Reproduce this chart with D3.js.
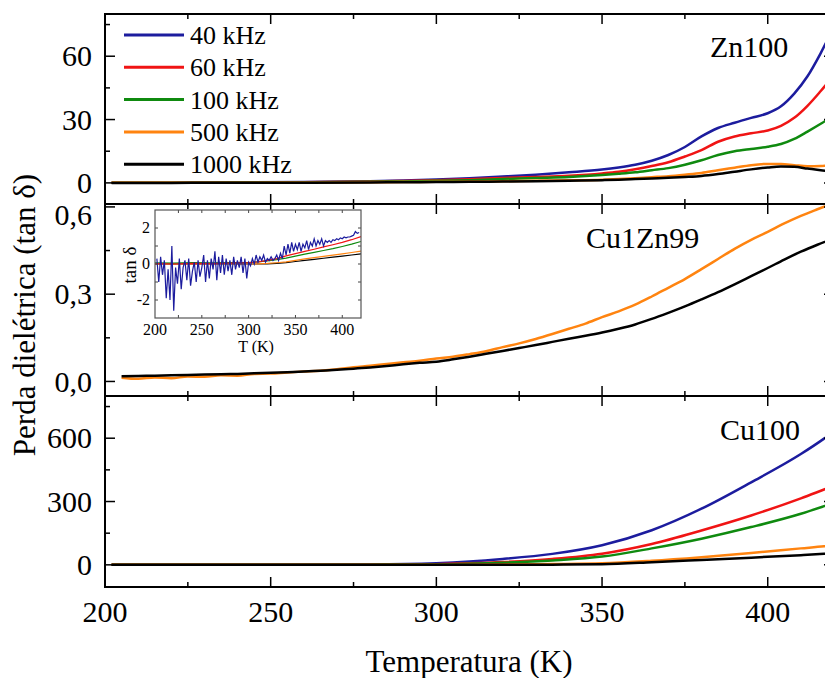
<!DOCTYPE html>
<html>
<head>
<meta charset="utf-8">
<script src="https://cdn.jsdelivr.net/npm/d3@7"></script>
<style>
  html, body { margin: 0; padding: 0; background: #fff; }
  svg { display: block; font-family: "Liberation Serif", "DejaVu Serif", serif; }
</style>
</head>
<body>
<svg id="chart" width="825" height="678"></svg>
<script>
// ---- Data -----------------------------------------------------------
const freqLabels = ["40 kHz", "60 kHz", "100 kHz", "500 kHz", "1000 kHz"];
const freqColors = ["#1c1c9e", "#f01414", "#0f8a0f", "#ff8410", "#000000"];

// Zn100 sample (tan δ)
const tempZn = [202, 220, 240, 260, 280, 290, 300, 310, 320, 330, 340, 350, 355, 360, 365, 370, 375, 380, 385, 390, 395, 400, 404, 408, 412, 416, 420];
const zn40   = [0.1, 0.1, 0.2, 0.4, 0.8, 1.1, 1.6, 2.2, 3.0, 3.9, 5.0, 6.3, 7.3, 8.6, 10.5, 13.2, 17, 22, 26, 28.5, 30.8, 33.0, 36.3, 42.3, 50.5, 61.5, 74];
const zn60   = [0.1, 0.1, 0.2, 0.3, 0.6, 0.9, 1.3, 1.7, 2.3, 2.8, 3.4, 4.5, 5.3, 6.5, 8.0, 9.8, 12.5, 15.5, 19.5, 22, 23.5, 24.8, 27.0, 30.8, 36.5, 43.5, 51];
const zn100  = [0.1, 0.1, 0.2, 0.3, 0.5, 0.7, 1.0, 1.3, 1.8, 2.3, 2.8, 3.7, 4.3, 5.0, 6.0, 7.0, 8.6, 10.7, 13.2, 15.0, 16.1, 17.1, 18.4, 20.8, 24.3, 28.0, 32.0];
const zn500  = [0.1, 0.1, 0.1, 0.2, 0.3, 0.4, 0.5, 0.6, 0.8, 1.0, 1.2, 1.5, 1.8, 2.2, 2.7, 3.2, 3.9, 4.7, 6.0, 7.2, 8.4, 9.0, 8.9, 8.4, 7.9, 8.0, 8.4];
const zn1000 = [0.0, 0.0, 0.1, 0.1, 0.2, 0.3, 0.4, 0.5, 0.6, 0.8, 1.0, 1.3, 1.5, 1.8, 2.1, 2.4, 2.8, 3.3, 4.2, 5.3, 6.4, 7.3, 7.8, 7.6, 6.8, 6.0, 5.4];

// Cu1Zn99 sample (tan δ), 500 kHz and 1000 kHz
const tempCuZn = [205, 210, 215, 220, 225, 230, 235, 240, 245, 250, 255, 260, 265, 270, 275, 280, 285, 290, 295, 300, 305, 310, 315, 320, 325, 330, 335, 340, 345, 350, 355, 360, 365, 370, 375, 380, 385, 390, 395, 400, 405, 410, 415, 420];
const cuzn500  = [0.013, 0.009, 0.014, 0.011, 0.017, 0.016, 0.021, 0.020, 0.026, 0.027, 0.031, 0.034, 0.037, 0.042, 0.049, 0.054, 0.060, 0.066, 0.071, 0.079, 0.085, 0.094, 0.104, 0.118, 0.131, 0.146, 0.163, 0.181, 0.199, 0.221, 0.241, 0.264, 0.292, 0.322, 0.352, 0.386, 0.421, 0.456, 0.487, 0.514, 0.543, 0.569, 0.592, 0.614];
const cuzn1000 = [0.018, 0.019, 0.020, 0.021, 0.022, 0.024, 0.025, 0.026, 0.028, 0.030, 0.032, 0.034, 0.037, 0.040, 0.044, 0.048, 0.053, 0.059, 0.064, 0.068, 0.076, 0.085, 0.095, 0.105, 0.115, 0.125, 0.136, 0.147, 0.157, 0.168, 0.181, 0.196, 0.215, 0.236, 0.258, 0.282, 0.307, 0.334, 0.362, 0.390, 0.419, 0.446, 0.470, 0.492];

// Cu1Zn99 sample, low-frequency curves (inset)
const insetTemp40 = d3.range(202, 419, 2);
const inset40 = [0.3, -1.0, 0.4, -0.6, 0.2, -1.9, -0.3, -2.0, 1.0, -2.6, -0.2, -1.1, 0.3, -1.4, -0.2, 0.2, -0.9, 0.3, -1.2, -0.4,
                 0.1, -1.0, 0.2, -0.7, -0.2, 0.5, -1.0, 0.2, -0.8, 0.3, -0.3, 0.7, -0.9, 0.4, -0.5, 0.5, -0.6, 0.3, -0.4, 0.2,
                 -0.6, 0.4, -0.3, 0.2, -0.2, 0.4, -0.5, 0.3, -0.8, 0.1, -0.1, 0.3, 0.0, 0.5, 0.1, 0.4, 0.2, 0.5, 0.1, 0.3,
                 0.2, 0.4, 0.2, 0.3, 0.5, 0.2, 0.6, 0.3, 1.0, 0.5, 1.1, 0.6, 1.2, 0.7, 1.1, 0.8, 1.2, 0.7, 1.1, 0.9,
                 1.3, 0.8, 1.2, 1.0, 1.4, 1.0, 1.3, 1.1, 1.4, 1.0, 1.3, 1.2, 1.3, 1.2, 1.35, 1.3, 1.4, 1.35, 1.45, 1.4,
                 1.5, 1.45, 1.5, 1.5, 1.55, 1.6, 1.8, 1.7, 1.75];
const insetTemp = [200, 220, 240, 260, 280, 300, 310, 320, 330, 340, 350, 360, 370, 380, 390, 400, 410, 420];
const inset60   = [0.02, 0.0, 0.03, 0.02, 0.05, 0.08, 0.12, 0.2, 0.3, 0.45, 0.58, 0.7, 0.82, 0.95, 1.07, 1.2, 1.35, 1.52];
const inset100  = [0.07, 0.05, 0.08, 0.06, 0.08, 0.08, 0.12, 0.17, 0.24, 0.33, 0.44, 0.55, 0.65, 0.75, 0.85, 0.97, 1.1, 1.25];
const inset500  = [0, 0, 0, 0, 0, 0, 0.01, 0.03, 0.07, 0.12, 0.2, 0.28, 0.35, 0.42, 0.49, 0.56, 0.64, 0.72];
const inset1000 = [0, 0, 0, 0, 0, 0, 0, 0.01, 0.04, 0.08, 0.14, 0.2, 0.26, 0.32, 0.38, 0.44, 0.5, 0.56];

// Cu100 sample (tan δ)
const tempCu = [202, 240, 280, 300, 310, 320, 335, 350, 365, 380, 395, 410, 417, 420];
const cu40   = [0, 0.5, 2, 8, 16, 28, 52, 93, 164, 266, 391, 525, 598, 632];
const cu60   = [0, 0.3, 1, 3, 7, 13, 28, 53, 99, 163, 234, 315, 357, 375];
const cu100  = [0, 0.3, 1, 2, 5, 10, 21, 39, 78, 124, 179, 242, 278, 294];
const cu500  = [0, 0, 0, 0, 1, 2, 4, 7, 19, 36, 56, 78, 88, 93];
const cu1000 = [0, 0, 0, 0, 0, 0, 1, 3, 12, 23, 34, 46, 52, 55];

const xTicks = [200, 250, 300, 350, 400];
const xMinorTicks = [225, 275, 325, 375];

// ---- Layout ---------------------------------------------------------
const svg = d3.select("#chart");
const x = d3.scaleLinear().domain([200, 420]).range([105, 834]);

const panels = [
  {
    id: "zn", name: "Zn100", top: 14, bottom: 204, domain: [-10, 80],
    ticks: [0, 30, 60], minor: [15, 45, 75], fmt: d => String(d),
    temps: tempZn, series: [zn40, zn60, zn100, zn500, zn1000], colors: [0, 1, 2, 3, 4],
    label: { x: 710, y: 57 }
  },
  {
    id: "cuzn", name: "Cu1Zn99", top: 204, bottom: 396, domain: [-0.05, 0.61],
    ticks: [0, 0.3, 0.6], minor: [0.15, 0.45], fmt: d => d.toFixed(1).replace(".", ","),
    temps: tempCuZn, series: [cuzn500, cuzn1000], colors: [3, 4],
    label: { x: 586, y: 248 }, topLabelShift: 8
  },
  {
    id: "cu", name: "Cu100", top: 396, bottom: 587, domain: [-105, 800],
    ticks: [0, 300, 600], minor: [150, 450, 750], fmt: d => String(d),
    temps: tempCu, series: [cu40, cu60, cu100, cu500, cu1000], colors: [0, 1, 2, 3, 4],
    label: { x: 720, y: 440 }
  }
];

const defs = svg.append("defs");

panels.forEach(p => {
  const y = d3.scaleLinear().domain(p.domain).range([p.bottom, p.top]);
  const g = svg.append("g");

  defs.append("clipPath").attr("id", "clip-" + p.id)
    .append("rect")
    .attr("x", x.range()[0]).attr("y", p.top)
    .attr("width", x.range()[1] - x.range()[0]).attr("height", p.bottom - p.top);

  const line = d3.line()
    .x(d => x(d[0])).y(d => y(d[1]))
    .curve(d3.curveMonotoneX);

  const curves = g.append("g").attr("clip-path", `url(#clip-${p.id})`);
  p.series.forEach((vals, i) => {
    curves.append("path")
      .datum(p.temps.map((t, k) => [t, vals[k]]))
      .attr("fill", "none")
      .attr("stroke", freqColors[p.colors[i]])
      .attr("stroke-width", 2.5)
      .attr("stroke-linejoin", "round")
      .attr("d", line);
  });

  // ticks on all four sides, pointing inward
  const x0 = x.range()[0], x1 = x.range()[1];
  const tickG = g.append("g").attr("stroke", "#000").attr("stroke-width", 1.5);
  const addY = (vals, len) => vals.forEach(v => {
    tickG.append("line").attr("x1", x0).attr("x2", x0 + len).attr("y1", y(v)).attr("y2", y(v));
    tickG.append("line").attr("x1", x1).attr("x2", x1 - len).attr("y1", y(v)).attr("y2", y(v));
  });
  addY(p.ticks, 10);
  addY(p.minor, 5);
  const addX = (vals, len) => vals.forEach(v => {
    tickG.append("line").attr("x1", x(v)).attr("x2", x(v)).attr("y1", p.bottom).attr("y2", p.bottom - len);
    tickG.append("line").attr("x1", x(v)).attr("x2", x(v)).attr("y1", p.top).attr("y2", p.top + len);
  });
  addX(xTicks, 10);
  addX(xMinorTicks, 5);

  // frame
  g.append("rect")
    .attr("x", x0).attr("y", p.top)
    .attr("width", x1 - x0).attr("height", p.bottom - p.top)
    .attr("fill", "none").attr("stroke", "#000").attr("stroke-width", 2);

  // y tick labels
  g.append("g").selectAll("text").data(p.ticks).join("text")
    .attr("x", 92)
    .attr("y", (d, i) => y(d) + (p.topLabelShift && i === p.ticks.length - 1 ? p.topLabelShift : 0))
    .attr("dy", "0.34em")
    .attr("text-anchor", "end")
    .attr("font-size", 30)
    .text(p.fmt);

  // sample name
  g.append("text")
    .attr("x", p.label.x).attr("y", p.label.y)
    .attr("font-size", 30)
    .text(p.name);
});

// x tick labels under the bottom panel
svg.append("g").selectAll("text").data(xTicks).join("text")
  .attr("x", d => x(d)).attr("y", 622)
  .attr("text-anchor", "middle")
  .attr("font-size", 30)
  .text(d => d);

// axis titles
svg.append("text")
  .attr("x", 469).attr("y", 672)
  .attr("text-anchor", "middle")
  .attr("font-size", 31)
  .text("Temperatura (K)");

svg.append("text")
  .attr("transform", "translate(35,315) rotate(-90)")
  .attr("text-anchor", "middle")
  .attr("font-size", 31)
  .text("Perda dielétrica (tan δ)");

// legend in the top panel
const legend = svg.append("g");
freqLabels.forEach((lab, i) => {
  const ly = 35 + i * 32.3;
  legend.append("line")
    .attr("x1", 124).attr("x2", 184).attr("y1", ly).attr("y2", ly)
    .attr("stroke", freqColors[i]).attr("stroke-width", 3);
  legend.append("text")
    .attr("x", 190).attr("y", ly + 9)
    .attr("font-size", 26)
    .text(lab);
});

// ---- Inset: Cu1Zn99 at all frequencies --------------------------------
const ix = d3.scaleLinear().domain([200, 420]).range([155, 361]);
const iy = d3.scaleLinear().domain([-3, 3]).range([318, 210]);
const inset = svg.append("g");
inset.append("rect")
  .attr("x", 155).attr("y", 210).attr("width", 206).attr("height", 108)
  .attr("fill", "#fff");
defs.append("clipPath").attr("id", "clip-inset")
  .append("rect").attr("x", 155).attr("y", 210).attr("width", 206).attr("height", 108);

const iline = d3.line().x(d => ix(d[0])).y(d => iy(d[1]));
const insetCurves = inset.append("g").attr("clip-path", "url(#clip-inset)");
const insetSeries = [
  { t: insetTemp, v: inset1000, c: 4 },
  { t: insetTemp, v: inset500, c: 3 },
  { t: insetTemp, v: inset100, c: 2 },
  { t: insetTemp, v: inset60, c: 1 },
  { t: insetTemp40, v: inset40, c: 0 }
];
insetSeries.forEach(s => {
  insetCurves.append("path")
    .datum(s.t.map((t, k) => [t, s.v[k]]))
    .attr("fill", "none")
    .attr("stroke", freqColors[s.c])
    .attr("stroke-width", 1.2)
    .attr("d", iline);
});

const itick = inset.append("g").attr("stroke", "#444").attr("stroke-width", 1);
[225, 250, 275, 300, 325, 350, 375, 400].forEach(v => {
  itick.append("line").attr("x1", ix(v)).attr("x2", ix(v)).attr("y1", 318).attr("y2", 315);
  itick.append("line").attr("x1", ix(v)).attr("x2", ix(v)).attr("y1", 210).attr("y2", 213);
});
[-2, -1, 0, 1, 2].forEach(v => {
  itick.append("line").attr("x1", 155).attr("x2", 158).attr("y1", iy(v)).attr("y2", iy(v));
  itick.append("line").attr("x1", 361).attr("x2", 358).attr("y1", iy(v)).attr("y2", iy(v));
});
inset.append("rect")
  .attr("x", 155).attr("y", 210).attr("width", 206).attr("height", 108)
  .attr("fill", "none").attr("stroke", "#555").attr("stroke-width", 1.2);

inset.append("g").selectAll("text").data([200, 250, 300, 350, 400]).join("text")
  .attr("x", d => ix(d)).attr("y", 335)
  .attr("text-anchor", "middle").attr("font-size", 16)
  .text(d => d);
inset.append("g").selectAll("text").data([-2, 0, 2]).join("text")
  .attr("x", 150).attr("y", d => iy(d)).attr("dy", "0.34em")
  .attr("text-anchor", "end").attr("font-size", 16)
  .text(d => d);
inset.append("text")
  .attr("x", 256).attr("y", 352).attr("text-anchor", "middle").attr("font-size", 16)
  .text("T (K)");
inset.append("text")
  .attr("transform", "translate(136,265) rotate(-90)")
  .attr("text-anchor", "middle").attr("font-size", 19)
  .text("tan δ");
</script>
</body>
</html>
